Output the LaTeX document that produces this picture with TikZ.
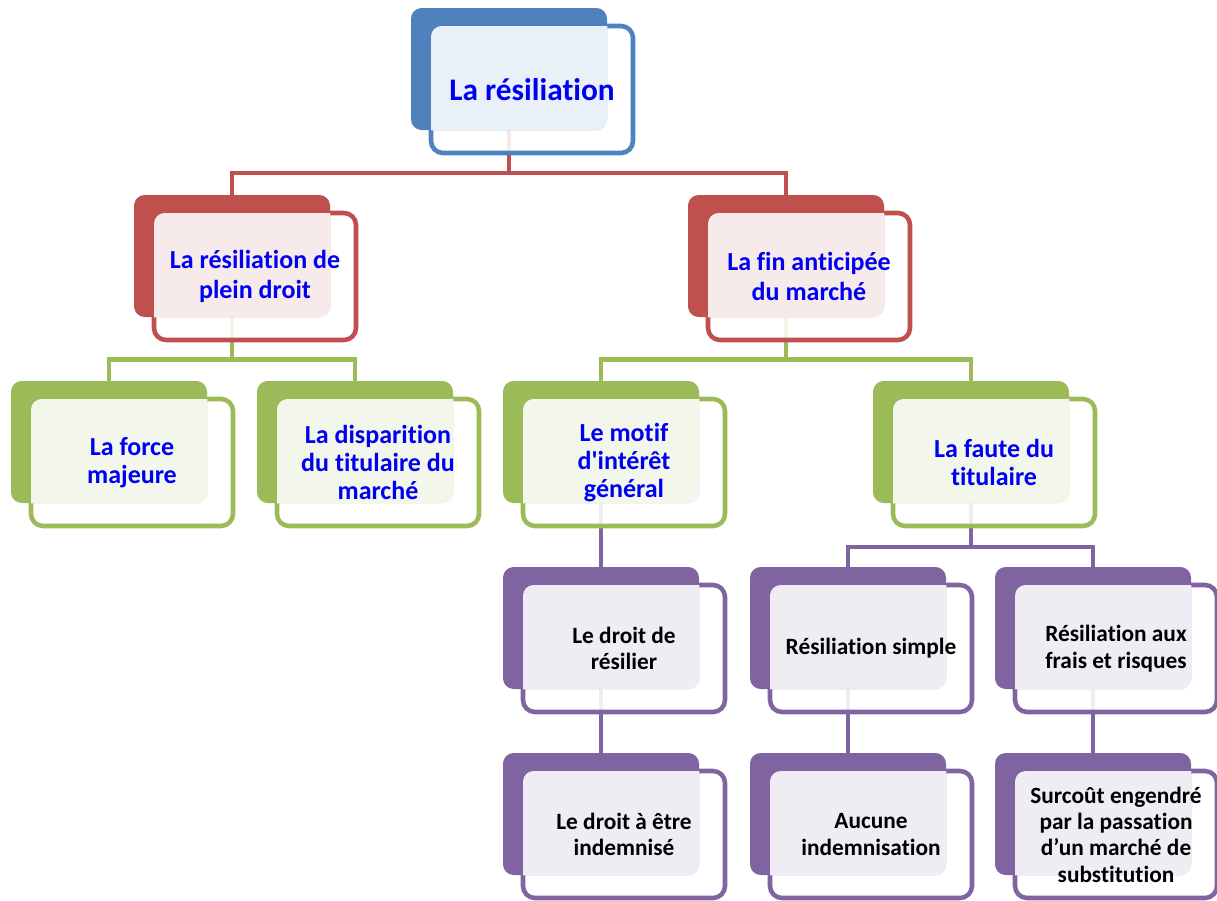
\documentclass[tikz,border=0pt]{standalone}
\usepackage{fontspec}
\setmainfont{Carlito}[Ligatures={TeXOff,NoCommon}]
\usetikzlibrary{fit}
\definecolor{cB}{HTML}{4F81BD}
\definecolor{cR}{HTML}{C0504D}
\definecolor{cG}{HTML}{9BBB59}
\definecolor{cP}{HTML}{8064A2}
\definecolor{tblue}{RGB}{0,0,240}
\pgfdeclarelayer{bg}\pgfsetlayers{bg,main}
\tikzset{
  tl0/.style={text=tblue, align=center, font=\bfseries\fontsize{23.5}{28}\selectfont},
  tl1/.style={text=tblue, align=center, font=\bfseries\fontsize{19.5}{22.5}\selectfont},
  tl2/.style={text=tblue, align=center, font=\bfseries\fontsize{19.5}{21}\selectfont},
  tl3/.style={text=black, align=center, font=\bfseries\fontsize{17.5}{19.8}\selectfont},
  conn/.style={line width=3.4pt},
}
\newcommand\elem[6]{%
  \node[fit={(#3+20,#4+18) (#3+222,#4+145)}, inner sep=0pt, rounded corners=9pt,
        draw=#2, line width=3.4pt, fill=white, fill opacity=0.88] (#1f) {};
  \node[fit={(#3,#4) (#3+196,#4+122)}, inner sep=0pt, rounded corners=8pt, fill=#2] (#1b) {};
  \begin{scope}
    \clip[rounded corners=8pt] (#1b.south west) rectangle (#1b.north east);
    \fill[#2!12, rounded corners=8pt] ([shift={(1.7pt,-1.7pt)}]#1f.north west) rectangle ([shift={(-1.7pt,1.7pt)}]#1f.south east);
  \end{scope}
  \node[#5] (#1t) at (#1f.center) {#6};
}
\begin{document}
\begin{tikzpicture}[x=0.75pt,y=-0.75pt]
\useasboundingbox (0,0) rectangle (1217,900);
\elem{T}{cB}{411}{8}{tl0}{La résiliation}
\elem{A}{cR}{134}{195}{tl1}{La résiliation de\\plein droit}
\elem{B}{cR}{688}{195}{tl1}{La fin anticipée\\du marché}
\elem{C}{cG}{11}{381}{tl2}{La force\\majeure}
\elem{D}{cG}{257}{381}{tl2}{La disparition\\du titulaire du\\marché}
\elem{E}{cG}{503}{381}{tl2}{Le motif\\d'intérêt\\général}
\elem{F}{cG}{873}{381}{tl2}{La faute du\\titulaire}
\elem{G}{cP}{503}{567}{tl3}{Le droit de\\résilier}
\elem{H}{cP}{750}{567}{tl3}{Résiliation simple}
\elem{I}{cP}{995}{567}{tl3}{Résiliation aux\\frais et risques}
\elem{J}{cP}{503}{753}{tl3}{Le droit à être\\indemnisé}
\elem{K}{cP}{750}{753}{tl3}{Aucune\\indemnisation}
\elem{L}{cP}{995}{753}{tl3}{Surcoût engendré\\par la passation\\d’un marché de\\substitution}
\coordinate (j1) at (509,173);
\coordinate (j2) at (232,359.5);
\coordinate (j3) at (786,359.5);
\coordinate (j4) at (971,547);
\begin{pgfonlayer}{bg}
\draw[conn,cR] (Tb.south) -- (j1) -| (Ab.north);
\draw[conn,cR] (j1) -| (Bb.north);
\draw[conn,cG] (Ab.south) -- (j2) -| (Cb.north);
\draw[conn,cG] (j2) -| (Db.north);
\draw[conn,cG] (Bb.south) -- (j3) -| (Eb.north);
\draw[conn,cG] (j3) -| (Fb.north);
\draw[conn,cP] (Eb.south) -- (Gb.north);
\draw[conn,cP] (Fb.south) -- (j4) -| (Hb.north);
\draw[conn,cP] (j4) -| (Ib.north);
\draw[conn,cP] (Gb.south) -- (Jb.north);
\draw[conn,cP] (Hb.south) -- (Kb.north);
\draw[conn,cP] (Ib.south) -- (Lb.north);
\end{pgfonlayer}
\end{tikzpicture}
\end{document}
